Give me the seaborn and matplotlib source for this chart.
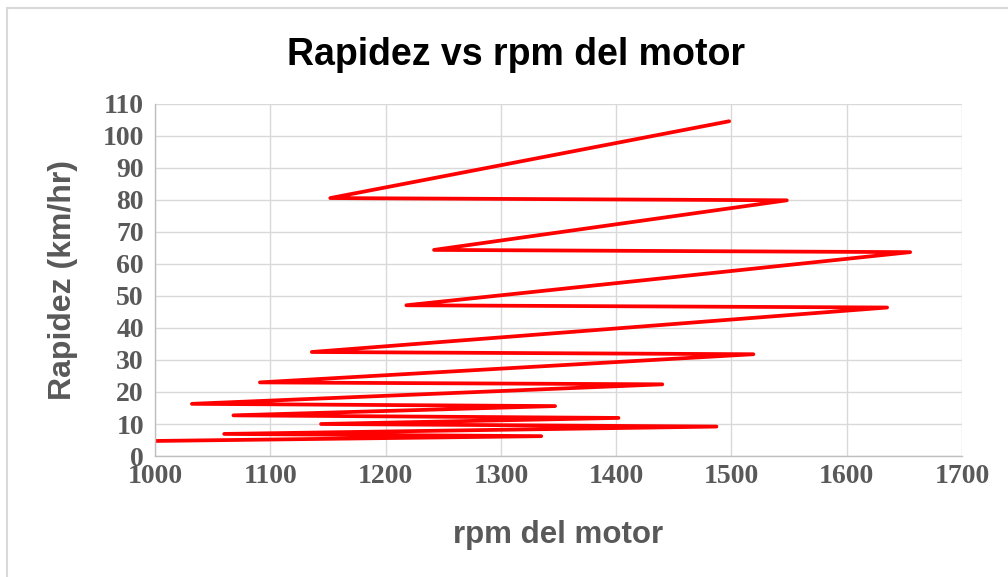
import matplotlib
matplotlib.use("Agg")
import matplotlib.pyplot as plt
import seaborn as sns
import pandas as pd
from matplotlib.patches import Rectangle

# data (in drawing order)
rpm = [1000, 1335, 1060, 1487, 1144, 1402, 1068, 1347, 1032, 1440,
       1091, 1519, 1136, 1635, 1218, 1655, 1242, 1548, 1152, 1498]
rapidez = [4.7, 6.2, 6.9, 9.2, 10.0, 11.9, 12.7, 15.6, 16.3, 22.4,
           23.0, 31.8, 32.5, 46.4, 47.1, 63.7, 64.4, 79.9, 80.6, 104.6]
x_ticks = [1000, 1100, 1200, 1300, 1400, 1500, 1600, 1700]
y_ticks = [0, 10, 20, 30, 40, 50, 60, 70, 80, 90, 100, 110]

df = pd.DataFrame({"rpm": rpm, "rapidez": rapidez})

sns.set_style("white")
grey = "#595959"

fig = plt.figure(figsize=(10.08, 5.77), dpi=100)
ax = fig.add_axes([0.1538, 0.2097, 0.8006, 0.6101])

sns.lineplot(data=df, x="rpm", y="rapidez", sort=False, estimator=None,
             color="#FF0000", linewidth=2.7, ax=ax,
             solid_capstyle="round", solid_joinstyle="round")

ax.set_xlim(1000, 1700)
ax.set_ylim(0, 110)
ax.set_xticks(x_ticks)
ax.set_yticks(y_ticks)
ax.grid(True, color="#D9D9D9", linewidth=1)
ax.set_axisbelow(True)
for side in ["top", "right"]:
    ax.spines[side].set_visible(False)
for side in ["left", "bottom"]:
    ax.spines[side].set_color("#BFBFBF")
    ax.spines[side].set_linewidth(1)
ax.tick_params(axis="x", length=0, pad=6)
ax.tick_params(axis="y", length=0, pad=8)
for lab in ax.get_xticklabels() + ax.get_yticklabels():
    lab.set_fontfamily("Liberation Serif")
    lab.set_fontweight("bold")
    lab.set_fontsize(20)
    lab.set_color(grey)

ax.set_xlabel("rpm del motor", fontfamily="Liberation Sans", fontweight="bold",
              fontsize=22.5, color=grey, labelpad=22)
ax.set_ylabel("Rapidez (km/hr)", fontfamily="Liberation Sans", fontweight="bold",
              fontsize=23, color=grey, labelpad=18)

fig.text(0.512, 0.905, "Rapidez vs rpm del motor", ha="center", va="center",
         fontfamily="Liberation Sans", fontweight="bold", fontsize=27, color="black")

# chart border
fig.patches.append(Rectangle((0.007, -0.02), 1.1, 1.006, transform=fig.transFigure,
                             fill=False, edgecolor="#D9D9D9", linewidth=1.5))

fig.savefig("out.png", dpi=100)
